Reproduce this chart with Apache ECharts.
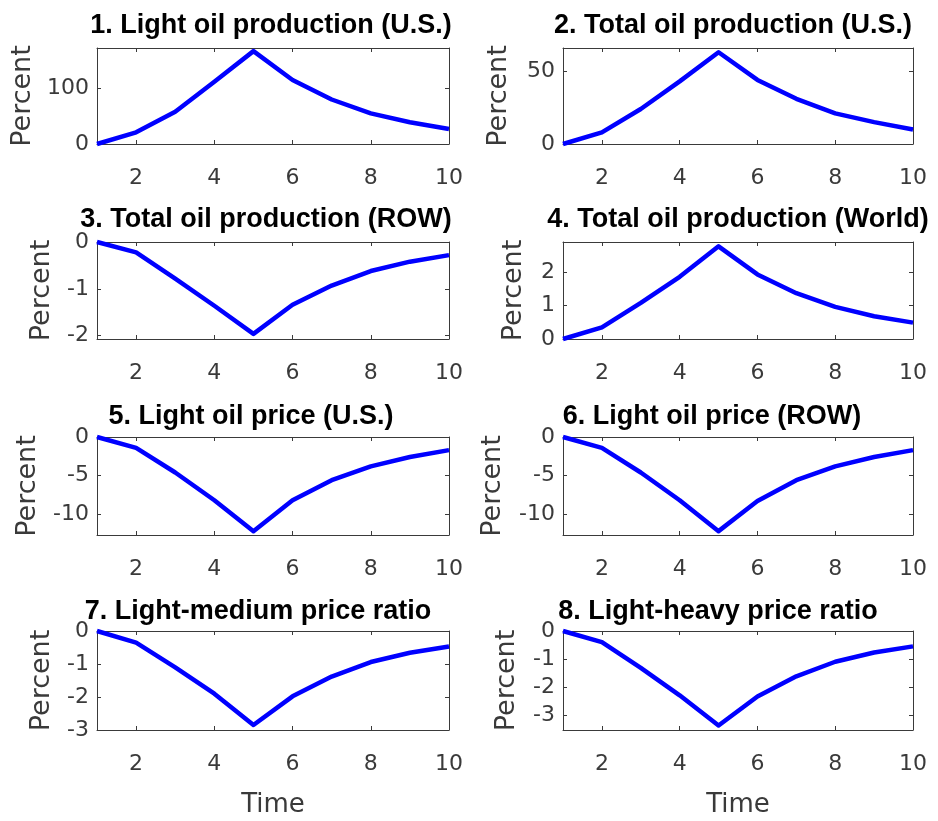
<!DOCTYPE html>
<html>
<head>
<meta charset="utf-8">
<script src="https://cdn.jsdelivr.net/npm/echarts@6/dist/echarts.min.js"></script>
<style>
  html, body { margin: 0; padding: 0; background: #fff; }
  #chart { width: 938px; height: 821px; }
</style>
</head>
<body>
<div id="chart"></div>
<script>
// Impulse responses over ten periods, percent deviation
const time = [1, 2, 3, 4, 5, 6, 7, 8, 9, 10];
const xTicks = [2, 4, 6, 8, 10];

const titles = [
  '1. Light oil production (U.S.)',
  '2. Total oil production (U.S.)',
  '3. Total oil production (ROW)',
  '4. Total oil production (World)',
  '5. Light oil price (U.S.)',
  '6. Light oil price (ROW)',
  '7. Light-medium price ratio',
  '8. Light-heavy price ratio'
];

const lightProdUS   = [0, 21, 58, 112, 167, 115, 80, 55, 39, 27];
const totalProdUS   = [0, 8, 24, 43, 63, 44, 31, 21, 15, 10];
const totalProdROW  = [0, -0.22, -0.78, -1.36, -1.96, -1.34, -0.93, -0.62, -0.42, -0.28];
const totalProdWorld = [0, 0.35, 1.08, 1.86, 2.77, 1.93, 1.37, 0.96, 0.68, 0.49];
const lightPriceUS  = [0, -1.4, -4.6, -8.2, -12.2, -8.2, -5.6, -3.8, -2.6, -1.7];
const lightPriceROW = [0, -1.4, -4.6, -8.2, -12.2, -8.3, -5.6, -3.8, -2.6, -1.7];
const lightMediumRatio = [0, -0.35, -1.1, -1.9, -2.85, -1.98, -1.38, -0.94, -0.66, -0.47];
const lightHeavyRatio  = [0, -0.4, -1.32, -2.3, -3.38, -2.34, -1.62, -1.1, -0.77, -0.55];

const yMin = [0, 0, -2.07, 0, -12.7, -12.7, -3, -3.54];
const yMax = [172.6, 65.9, 0, 2.9, 0, 0, 0, 0];
const yTicks = [
  [0, 100], [0, 50], [-2, -1, 0], [0, 1, 2],
  [-10, -5, 0], [-10, -5, 0], [-3, -2, -1, 0], [-3, -2, -1, 0]
];

const seriesData = [
  lightProdUS, totalProdUS, totalProdROW, totalProdWorld,
  lightPriceUS, lightPriceROW, lightMediumRatio, lightHeavyRatio
];

// panel geometry (pixels)
const colLeft = [97, 563];
const colWidth = [352, 350];
const rowTop = [48, 242, 437, 631];
const rowHeight = [96, 97, 98, 99];
const titleCenter = [271, 733, 266, 738, 251, 712, 258, 718];
const titleTop = [12, 206, 403, 598];
const percentGap = [61, 51, 42, 36, 56, 57, 42, 43];

const axisColor = '#3a3a3a';
const labelColor = '#3a3a3a';
const tickFont = 'DejaVu Sans';
const titleFont = 'Liberation Sans';

const grid = [], xAxis = [], yAxis = [], series = [], title = [];

for (let i = 0; i < 8; i++) {
  const col = i % 2, row = Math.floor(i / 2);
  grid.push({
    left: colLeft[col], top: rowTop[row],
    width: colWidth[col], height: rowHeight[row],
    containLabel: false, show: false
  });
  title.push({
    text: titles[i],
    left: titleCenter[i], top: titleTop[row],
    textAlign: 'center', padding: 0,
    textStyle: { fontFamily: titleFont, fontWeight: 'bold', fontSize: 27, color: '#000' }
  });
  const common = {
    gridIndex: i, type: 'value', min: 1, max: 10,
    splitLine: { show: false },
    axisLine: { show: true, onZero: false, lineStyle: { color: axisColor, width: 1 } },
    axisTick: { show: true, inside: true, length: 4, customValues: xTicks, lineStyle: { color: axisColor } }
  };
  xAxis.push(Object.assign({}, common, {
    position: 'bottom',
    axisLabel: {
      show: true, customValues: xTicks, margin: 23,
      fontFamily: tickFont, fontSize: 22, color: labelColor
    },
    name: row === 3 ? 'Time' : '',
    nameLocation: 'middle', nameGap: 62,
    nameTextStyle: { fontFamily: tickFont, fontSize: 26, color: labelColor }
  }));
  xAxis.push(Object.assign({}, common, {
    position: 'top', axisLabel: { show: false }
  }));
  const yCommon = {
    gridIndex: i, type: 'value', min: yMin[i], max: yMax[i],
    splitLine: { show: false },
    axisLine: { show: true, onZero: false, lineStyle: { color: axisColor, width: 1 } },
    axisTick: { show: true, inside: true, length: 4, customValues: yTicks[i], lineStyle: { color: axisColor } }
  };
  yAxis.push(Object.assign({}, yCommon, {
    position: 'left',
    axisLabel: {
      show: true, customValues: yTicks[i], margin: 8,
      fontFamily: tickFont, fontSize: 22, color: labelColor
    },
    name: 'Percent', nameLocation: 'middle', nameRotate: 90, nameGap: percentGap[i],
    nameTextStyle: { fontFamily: tickFont, fontSize: 27, color: labelColor }
  }));
  yAxis.push(Object.assign({}, yCommon, {
    position: 'right', axisLabel: { show: false }
  }));
  series.push({
    type: 'line',
    xAxisIndex: 2 * i, yAxisIndex: 2 * i,
    data: time.map((t, k) => [t, seriesData[i][k]]),
    showSymbol: false, symbol: 'none',
    clip: false,
    lineStyle: { color: '#0000ff', width: 4.5, join: 'round' },
    animation: false
  });
}

const chart = echarts.init(document.getElementById('chart'), null, { renderer: 'canvas' });
chart.setOption({
  backgroundColor: '#ffffff',
  animation: false,
  title, grid, xAxis, yAxis, series
});
</script>
</body>
</html>
